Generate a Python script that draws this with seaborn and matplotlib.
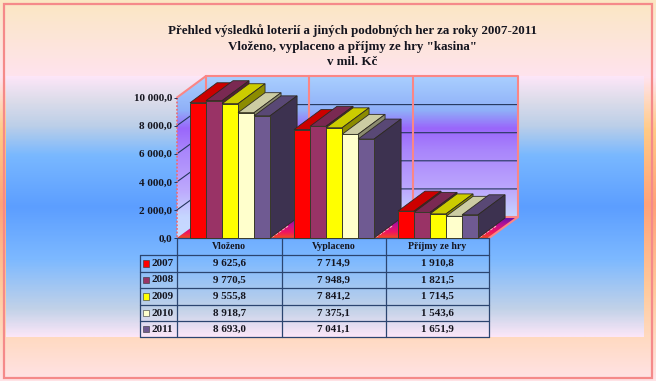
import numpy as np
import pandas as pd
import seaborn as sns
import matplotlib.pyplot as plt
from matplotlib.colors import LinearSegmentedColormap, to_rgb
from matplotlib.patches import Polygon, Rectangle
from matplotlib.ticker import FuncFormatter

categories = ["Vloženo", "Vyplaceno", "Příjmy ze hry"]
years = ["2007", "2008", "2009", "2010", "2011"]
vlozeno = [9625.6, 9770.5, 9555.8, 8918.7, 8693.0]
vyplaceno = [7714.9, 7948.9, 7841.2, 7375.1, 7041.1]
prijmy = [1910.8, 1821.5, 1714.5, 1543.6, 1651.9]
colors = ["#ff0000", "#993366", "#ffff00", "#ffffcc", "#6f5a92"]
title_lines = ["Přehled výsledků loterií a jiných podobných her za roky 2007-2011",
               "Vloženo, vyplaceno a příjmy ze hry \"kasina\"",
               "v mil. Kč"]
y_ticks = [0, 2000, 4000, 6000, 8000, 10000]

SALMON = "#f58a8a"
DARK = "#2b4570"
TXT = "#15151f"

sns.set_theme(style="white")
plt.rcParams['font.family'] = ['Liberation Serif', 'DejaVu Serif']
plt.rcParams['font.weight'] = 'bold'


def fmt(v):
    return f"{v:,.1f}".replace(",", " ").replace(".", ",")


def gradient(ax, stops, x0, x1, y0, y1, clip=None, z=0):
    cmap = LinearSegmentedColormap.from_list("g", [((p - y0) / (y1 - y0), c) for p, c in stops])
    im = ax.imshow(np.linspace(0, 1, 300)[:, None], cmap=cmap, extent=(x0, x1, y1, y0),
                   aspect="auto", vmin=0, vmax=1, interpolation="bilinear", zorder=z)
    if clip is not None:
        patch = Polygon(clip, closed=True, transform=ax.transData, fc="none", ec="none")
        ax.add_patch(patch)
        im.set_clip_path(patch)
    return im


df = pd.DataFrame({
    "kategorie": [c for c in categories for _ in years],
    "rok": years * 3,
    "hodnota": vlozeno + vyplaceno + prijmy,
})

fig = plt.figure(figsize=(6.56, 3.81), dpi=100)
W, H = 656, 381

# pozadi, steny a tabulka v pixelovych souradnicich
bg = fig.add_axes([0, 0, 1, 1], zorder=0)
outer = [(0, "#fbe7c3"), (76, "#ffe3ee"), (130, "#ffca85"), (205, "#ffa278"),
         (290, "#ffca9c"), (337, "#ffd9bf"), (381, "#ffe3e6")]
inner = [(76, "#fce6f8"), (100, "#dcdcea"), (125, "#bccfe8"), (155, "#79b8ff"),
         (207, "#5c9eff"), (260, "#7db9ff"), (310, "#c2d2e8"), (337, "#fbe6f8")]
wall = [(76, "#a9cfff"), (110, "#8fb0f8"), (128, "#9a66fb"), (150, "#a985fb"),
        (190, "#bda8fd"), (217, "#c6d6ff"), (238, "#c6dcff")]
floor = [(217, "#5a10b0"), (225, "#c01090"), (232, "#f01560"), (238, "#f04a20")]
gradient(bg, outer, 0, W, 0, H)
gradient(bg, inner, 6, 644, 76, 337, z=1)

x0, x1 = 177, 489
ybot, ytop = 238, 97.5
ddx, ddy = 29, 21
gradient(bg, wall, x0, x1 + ddx, 76, 238, z=2,
         clip=[(x0, ytop), (x0 + ddx, ytop - ddy), (x1 + ddx, ytop - ddy), (x1 + ddx, ybot - ddy),
               (x0 + ddx, ybot - ddy), (x0, ybot)])
gradient(bg, floor, x0, x1 + ddx, 217, 238, z=2,
         clip=[(x0, ybot), (x0 + ddx, ybot - ddy), (x1 + ddx, ybot - ddy), (x1, ybot)])

bg.add_patch(Rectangle((4, 4), 648, 374, fill=False, ec=SALMON, lw=1.6, zorder=3))

# mrizka na stenach
py = (ybot - ytop) / 10000
for t in y_ticks[1:-1]:
    y = ybot - t * py
    bg.plot([x0, x0 + ddx, x1 + ddx], [y, y - ddy, y - ddy], color="#24365c", lw=0.8, zorder=3)
for xs, ys in [([x0 + ddx, x1 + ddx, x1 + ddx, x0 + ddx, x0 + ddx], [76, 76, 217, 217, 76]),
               ([309, 309], [76, 217]), ([413, 413], [76, 217]),
               ([x0, x0 + ddx], [ytop, 76]), ([x1, x1 + ddx], [ybot, 217])]:
    bg.plot(xs, ys, color="#fa8686", lw=1.5, zorder=4)
bg.plot([x0, x0], [ytop, ybot], color="#e8707a", lw=1.3, ls=(0, (1, 1)), zorder=4)
for xs in [272, 376, 480]:
    bg.plot([xs, xs + 16], [237, 226], color="#ffb0c0", lw=1, ls=(0, (2, 1)), zorder=3)

# tabulka
col_x = [177, 281.5, 385.5, 489]
row_y = [255, 272, 288, 305, 321, 337]
bg.plot([x0, x1], [238, 238], color=DARK, lw=0.9, zorder=5)
for x in col_x:
    bg.plot([x, x], [238, 337], color=DARK, lw=0.9, zorder=5)
bg.plot([140, 140], [255, 337], color=DARK, lw=0.9, zorder=5)
for y in row_y:
    bg.plot([140, 489], [y, y], color=DARK, lw=0.9, zorder=5)
for i, c in enumerate(categories):
    xc = (col_x[i] + col_x[i + 1]) / 2
    bg.text(xc, 246.5, c, ha="center", va="center", fontsize=7.1, color=TXT, zorder=6)
for r, yr in enumerate(years):
    yc = (row_y[r] + row_y[r + 1]) / 2
    bg.add_patch(Rectangle((143, yc - 3.2), 6.2, 6.4, fc=colors[r], ec="#333333", lw=0.4, zorder=6))
    bg.text(152, yc, yr, ha="left", va="center", fontsize=8, color=TXT, zorder=6)
    for i, series in enumerate([vlozeno, vyplaceno, prijmy]):
        xc = (col_x[i] + col_x[i + 1]) / 2
        bg.text(xc, yc, fmt(series[r]), ha="center", va="center", fontsize=7.9, color=TXT, zorder=6)

for i, line in enumerate(title_lines):
    bg.text(352, [31, 47, 62][i], line, ha="center", va="center", fontsize=9.4, color=TXT, zorder=6)

bg.set_xlim(0, W)
bg.set_ylim(H, 0)
bg.axis("off")

# sloupce
ax = fig.add_axes([x0 / W, 1 - ybot / H, (x1 - x0) / W, (ybot - ytop) / H], zorder=1)
ax.patch.set_alpha(0)
sns.barplot(data=df, x="kategorie", y="hodnota", hue="rok", order=categories, hue_order=years,
            palette=colors, saturation=1, width=0.77, gap=0, legend=False, ax=ax,
            edgecolor="#3a3a2a", linewidth=0.7)
ax.set_xlim(-0.51, 2.49)
ax.set_ylim(0, 10000)
ax.set_xlabel("")
ax.set_ylabel("")
ax.set_xticks([])
ax.set_yticks(y_ticks)
ax.yaxis.set_major_formatter(FuncFormatter(lambda v, _: fmt(v)))
ax.tick_params(axis="y", left=True, length=2.5, width=0.7, color="#24365c", pad=1, labelsize=8,
               labelcolor=TXT)
for s in ax.spines.values():
    s.set_visible(False)

sx = 27 / ((x1 - x0) / 3)
sy = 20 / py
bars = []
for k, cont in enumerate(ax.containers):
    for p in cont.patches:
        bars.append((p.get_x(), p, colors[k]))
bars.sort(key=lambda b: b[0])
for n, (_, p, col) in enumerate(bars):
    xl, w, h = p.get_x(), p.get_width(), p.get_height()
    rgb = np.array(to_rgb(col))
    z = 3 + n * 0.1
    ax.add_patch(Polygon([(xl, h), (xl + sx, h + sy), (xl + w + sx, h + sy), (xl + w, h)],
                         fc=rgb * 0.8, ec="#2e2a22", lw=0.6, zorder=z, clip_on=False))
    ax.add_patch(Polygon([(xl + w, 0), (xl + w + sx, sy), (xl + w + sx, h + sy), (xl + w, h)],
                         fc=rgb * 0.55, ec="#2e2a22", lw=0.6, zorder=z, clip_on=False))
    p.set_zorder(z + 0.05)
    p.set_clip_on(False)

fig.savefig("out.png", dpi=100)
